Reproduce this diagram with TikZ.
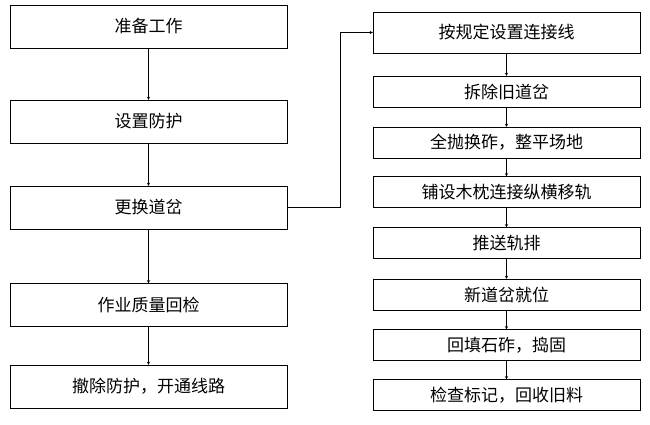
\documentclass[tikz,border=0pt]{standalone}
\usepackage{fontspec}
\newfontfamily\cjk{Noto Sans CJK SC}
\usetikzlibrary{arrows,positioning}
\begin{document}
\begin{tikzpicture}
[
                  x =  1pt,
	              y = -1pt,
	           ->, >= stealth,
	   leftbox/.style = { draw=black, rectangle, minimum width=277pt, minimum height=43pt, font=\cjk\fontsize{17}{19}\selectfont },
	  rightbox/.style = { draw=black, rectangle, minimum width=267pt, minimum height=31pt, inner sep=1pt, font=\cjk\fontsize{17}{19}\selectfont },
]
    \useasboundingbox (0,0) rectangle (650,425);

    \node (Prepare)     at (148.5, 26.5)  [leftbox] {准备工作};
    \node (Protect)     at (148.5,121.5)  [leftbox] {设置防护};
    \node (Replace)     at (148.5,207.5)  [leftbox] {更换道岔};
    \node (Check)       at (148.5,305)    [leftbox] {作业质量回检};
    \node (Remove)      at (148.5,386.5)  [leftbox] {撤除防护，开通线路};

    \node (Link)        at (506.5, 32.5)  [rightbox, minimum height=41pt] {按规定设置连接线};
    \node (Dismantle)   at (506.5, 91.5)  [rightbox] {拆除旧道岔};
    \node (Ballast)     at (506.5,142.5)  [rightbox] {全抛换砟，整平场地};
    \node (Sleeper)     at (506.5,192)    [rightbox] {铺设木枕连接纵横移轨};
    \node (Push)        at (506.5,243)    [rightbox] {推送轨排};
    \node (Place)       at (506.5,294.5)  [rightbox] {新道岔就位};
    \node (Tamp)        at (506.5,345)    [rightbox] {回填石砟，捣固};
    \node (Inspect)     at (506.5,395)    [rightbox] {检查标记，回收旧料};

    \draw (Prepare) -> (Protect);
    \draw (Protect) -> (Replace);
    \draw (Replace) -> (Check);
    \draw (Check) -> (Remove);

    \draw (Replace.east) -- (340,207.5) -- (340,32.5) -> (Link.west);

    \draw (Link) -> (Dismantle);
    \draw (Dismantle) -> (Ballast);
    \draw (Ballast) -> (Sleeper);
    \draw (Sleeper) -> (Push);
    \draw (Push) -> (Place);
    \draw (Place) -> (Tamp);
    \draw (Tamp) -> (Inspect);

\end{tikzpicture}
\end{document}
